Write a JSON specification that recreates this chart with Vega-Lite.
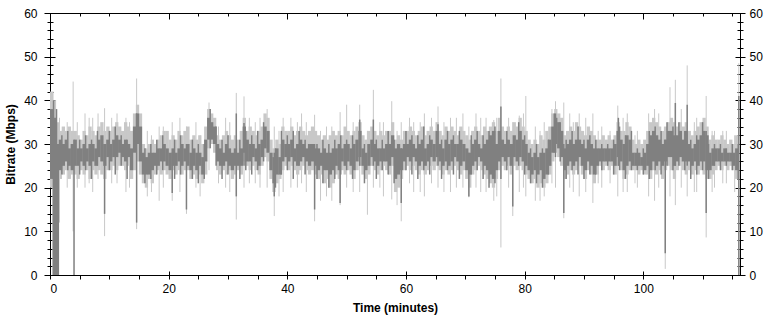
{
"$schema": "https://vega.github.io/schema/vega-lite/v6.json",
"width": 690, "height": 262,
"autosize": {"type": "none"},
"padding": {"left": 50, "top": 13, "right": 31, "bottom": 49},
"background": "#ffffff",
"config": {"view": {"stroke": "#000000", "strokeWidth": 1}, "axis": {"grid": false, "domain": false, "tickColor": "#000000", "labelColor": "#000000", "titleColor": "#000000", "labelFont": "Liberation Sans", "titleFont": "Liberation Sans", "labelFontSize": 12, "titleFontSize": 12, "titleFontWeight": "bold"}},
"datasets": {
"main": [
{"t":0.25,"l":20,"h":42,"a":22,"b":38},{"t":0.75,"l":0,"h":40,"a":0,"b":36},{"t":1.25,"l":0,"h":35,"a":0,"b":30},{"t":1.75,"l":22,"h":33,"a":24,"b":31},
{"t":2.25,"l":23,"h":34,"a":25,"b":30},{"t":2.75,"l":24,"h":33,"a":26,"b":31},{"t":3.25,"l":22,"h":34,"a":25,"b":29},{"t":3.75,"l":23,"h":33,"a":24,"b":30},
{"t":4.25,"l":23,"h":33,"a":25,"b":31},{"t":4.75,"l":22,"h":32,"a":25,"b":29},{"t":5.25,"l":24,"h":31,"a":26,"b":29},{"t":5.75,"l":23,"h":33,"a":25,"b":30},
{"t":6.25,"l":24,"h":32,"a":26,"b":29},{"t":6.75,"l":22,"h":34,"a":25,"b":30},{"t":7.25,"l":24,"h":33,"a":26,"b":30},{"t":7.75,"l":23,"h":32,"a":25,"b":29},
{"t":8.25,"l":24,"h":34,"a":27,"b":31},{"t":8.75,"l":23,"h":35,"a":26,"b":32},{"t":9.25,"l":22,"h":33,"a":25,"b":30},{"t":9.75,"l":24,"h":34,"a":27,"b":31},
{"t":10.25,"l":24,"h":33,"a":26,"b":30},{"t":10.75,"l":25,"h":34,"a":27,"b":31},{"t":11.25,"l":24,"h":35,"a":27,"b":32},{"t":11.75,"l":25,"h":34,"a":28,"b":31},
{"t":12.25,"l":25,"h":33,"a":27,"b":30},{"t":12.75,"l":24,"h":35,"a":26,"b":31},{"t":13.25,"l":25,"h":34,"a":27,"b":30},{"t":13.75,"l":22,"h":33,"a":24,"b":29},
{"t":14.25,"l":24,"h":37,"a":28,"b":34},{"t":14.75,"l":26,"h":39,"a":30,"b":37},{"t":15.25,"l":23,"h":37,"a":26,"b":34},{"t":15.75,"l":21,"h":30,"a":23,"b":28},
{"t":16.25,"l":20,"h":29,"a":23,"b":27},{"t":16.75,"l":22,"h":30,"a":23,"b":28},{"t":17.25,"l":21,"h":31,"a":24,"b":28},{"t":17.75,"l":23,"h":30,"a":25,"b":28},
{"t":18.25,"l":24,"h":31,"a":25,"b":29},{"t":18.75,"l":23,"h":32,"a":26,"b":29},{"t":19.25,"l":24,"h":33,"a":26,"b":30},{"t":19.75,"l":23,"h":33,"a":25,"b":29},
{"t":20.25,"l":22,"h":31,"a":24,"b":28},{"t":20.75,"l":24,"h":32,"a":25,"b":29},{"t":21.25,"l":23,"h":31,"a":25,"b":28},{"t":21.75,"l":24,"h":33,"a":26,"b":29},
{"t":22.25,"l":23,"h":32,"a":25,"b":30},{"t":22.75,"l":24,"h":33,"a":26,"b":29},{"t":23.25,"l":24,"h":34,"a":25,"b":30},{"t":23.75,"l":22,"h":31,"a":24,"b":28},
{"t":24.25,"l":23,"h":32,"a":25,"b":29},{"t":24.75,"l":22,"h":31,"a":24,"b":28},{"t":25.25,"l":23,"h":32,"a":25,"b":28},{"t":25.75,"l":21,"h":30,"a":23,"b":27},
{"t":26.25,"l":23,"h":34,"a":26,"b":31},{"t":26.75,"l":29,"h":38,"a":31,"b":36},{"t":27.25,"l":30,"h":37,"a":31,"b":35},{"t":27.75,"l":28,"h":36,"a":30,"b":34},
{"t":28.25,"l":24,"h":32,"a":26,"b":30},{"t":28.75,"l":23,"h":31,"a":25,"b":29},{"t":29.25,"l":24,"h":32,"a":25,"b":28},{"t":29.75,"l":23,"h":33,"a":26,"b":30},
{"t":30.25,"l":24,"h":32,"a":25,"b":29},{"t":30.75,"l":22,"h":31,"a":24,"b":28},{"t":31.25,"l":23,"h":32,"a":25,"b":29},{"t":31.75,"l":24,"h":31,"a":25,"b":28},
{"t":32.25,"l":23,"h":33,"a":25,"b":29},{"t":32.75,"l":26,"h":36,"a":28,"b":34},{"t":33.25,"l":25,"h":33,"a":26,"b":31},{"t":33.75,"l":24,"h":34,"a":26,"b":30},
{"t":34.25,"l":25,"h":33,"a":27,"b":30},{"t":34.75,"l":24,"h":32,"a":26,"b":29},{"t":35.25,"l":23,"h":33,"a":25,"b":30},{"t":35.75,"l":25,"h":34,"a":27,"b":31},
{"t":36.25,"l":27,"h":37,"a":29,"b":34},{"t":36.75,"l":26,"h":36,"a":28,"b":33},{"t":37.25,"l":22,"h":31,"a":24,"b":28},{"t":37.75,"l":19,"h":29,"a":21,"b":27},
{"t":38.25,"l":21,"h":31,"a":23,"b":29},{"t":38.75,"l":22,"h":30,"a":23,"b":27},{"t":39.25,"l":24,"h":34,"a":26,"b":31},{"t":39.75,"l":25,"h":33,"a":27,"b":30},
{"t":40.25,"l":24,"h":33,"a":26,"b":30},{"t":40.75,"l":25,"h":34,"a":27,"b":31},{"t":41.25,"l":24,"h":32,"a":26,"b":29},{"t":41.75,"l":23,"h":33,"a":25,"b":30},
{"t":42.25,"l":24,"h":34,"a":26,"b":31},{"t":42.75,"l":25,"h":33,"a":27,"b":30},{"t":43.25,"l":24,"h":32,"a":26,"b":29},{"t":43.75,"l":23,"h":33,"a":25,"b":30},
{"t":44.25,"l":24,"h":34,"a":26,"b":30},{"t":44.75,"l":23,"h":33,"a":25,"b":29},{"t":45.25,"l":22,"h":32,"a":24,"b":29},{"t":45.75,"l":23,"h":31,"a":25,"b":28},
{"t":46.25,"l":21,"h":32,"a":24,"b":29},{"t":46.75,"l":22,"h":31,"a":24,"b":28},{"t":47.25,"l":20,"h":32,"a":23,"b":28},{"t":47.75,"l":21,"h":33,"a":24,"b":29},
{"t":48.25,"l":23,"h":32,"a":25,"b":29},{"t":48.75,"l":22,"h":33,"a":24,"b":30},{"t":49.25,"l":24,"h":32,"a":26,"b":29},{"t":49.75,"l":23,"h":34,"a":25,"b":30},
{"t":50.25,"l":24,"h":33,"a":26,"b":30},{"t":50.75,"l":23,"h":32,"a":25,"b":29},{"t":51.25,"l":22,"h":33,"a":24,"b":30},{"t":51.75,"l":24,"h":34,"a":26,"b":31},
{"t":52.25,"l":25,"h":35,"a":27,"b":33},{"t":52.75,"l":23,"h":32,"a":25,"b":29},{"t":53.25,"l":22,"h":31,"a":24,"b":28},{"t":53.75,"l":23,"h":33,"a":25,"b":30},
{"t":54.25,"l":25,"h":34,"a":27,"b":31},{"t":54.75,"l":24,"h":33,"a":26,"b":30},{"t":55.25,"l":23,"h":32,"a":25,"b":29},{"t":55.75,"l":24,"h":33,"a":26,"b":29},
{"t":56.25,"l":25,"h":32,"a":26,"b":29},{"t":56.75,"l":24,"h":33,"a":26,"b":30},{"t":57.25,"l":23,"h":33,"a":25,"b":30},{"t":57.75,"l":25,"h":35,"a":27,"b":32},
{"t":58.25,"l":19,"h":31,"a":22,"b":29},{"t":58.75,"l":20,"h":32,"a":23,"b":30},{"t":59.25,"l":22,"h":31,"a":24,"b":29},{"t":59.75,"l":24,"h":33,"a":26,"b":30},
{"t":60.25,"l":25,"h":33,"a":27,"b":30},{"t":60.75,"l":24,"h":34,"a":26,"b":31},{"t":61.25,"l":25,"h":33,"a":27,"b":30},{"t":61.75,"l":24,"h":32,"a":26,"b":29},
{"t":62.25,"l":23,"h":33,"a":25,"b":30},{"t":62.75,"l":24,"h":34,"a":26,"b":31},{"t":63.25,"l":23,"h":32,"a":25,"b":29},{"t":63.75,"l":24,"h":33,"a":26,"b":30},
{"t":64.25,"l":25,"h":34,"a":27,"b":31},{"t":64.75,"l":24,"h":33,"a":26,"b":30},{"t":65.25,"l":25,"h":35,"a":27,"b":33},{"t":65.75,"l":24,"h":33,"a":26,"b":30},
{"t":66.25,"l":23,"h":32,"a":25,"b":29},{"t":66.75,"l":24,"h":34,"a":26,"b":31},{"t":67.25,"l":23,"h":33,"a":25,"b":30},{"t":67.75,"l":24,"h":34,"a":26,"b":31},
{"t":68.25,"l":25,"h":33,"a":27,"b":30},{"t":68.75,"l":24,"h":32,"a":26,"b":30},{"t":69.25,"l":23,"h":34,"a":25,"b":31},{"t":69.75,"l":24,"h":33,"a":26,"b":30},
{"t":70.25,"l":22,"h":32,"a":24,"b":29},{"t":70.75,"l":20,"h":31,"a":23,"b":28},{"t":71.25,"l":23,"h":33,"a":25,"b":30},{"t":71.75,"l":24,"h":34,"a":26,"b":31},
{"t":72.25,"l":25,"h":33,"a":27,"b":30},{"t":72.75,"l":24,"h":32,"a":26,"b":29},{"t":73.25,"l":23,"h":34,"a":25,"b":30},{"t":73.75,"l":22,"h":33,"a":24,"b":31},
{"t":74.25,"l":21,"h":34,"a":23,"b":32},{"t":74.75,"l":20,"h":35,"a":22,"b":33},{"t":75.25,"l":22,"h":33,"a":24,"b":30},{"t":75.75,"l":24,"h":36,"a":26,"b":33},
{"t":76.25,"l":25,"h":34,"a":27,"b":31},{"t":76.75,"l":24,"h":33,"a":26,"b":30},{"t":77.25,"l":25,"h":34,"a":27,"b":31},{"t":77.75,"l":23,"h":33,"a":25,"b":30},
{"t":78.25,"l":25,"h":35,"a":27,"b":32},{"t":78.75,"l":24,"h":34,"a":26,"b":31},{"t":79.25,"l":25,"h":36,"a":27,"b":33},{"t":79.75,"l":24,"h":34,"a":26,"b":31},
{"t":80.25,"l":23,"h":33,"a":25,"b":30},{"t":80.75,"l":22,"h":31,"a":24,"b":28},{"t":81.25,"l":21,"h":30,"a":23,"b":27},{"t":81.75,"l":22,"h":31,"a":24,"b":28},
{"t":82.25,"l":20,"h":30,"a":23,"b":27},{"t":82.75,"l":21,"h":32,"a":24,"b":28},{"t":83.25,"l":20,"h":31,"a":22,"b":28},{"t":83.75,"l":21,"h":33,"a":23,"b":29},
{"t":84.25,"l":23,"h":34,"a":25,"b":31},{"t":84.75,"l":26,"h":37,"a":28,"b":34},{"t":85.25,"l":28,"h":38,"a":30,"b":36},{"t":85.75,"l":27,"h":37,"a":29,"b":35},
{"t":86.25,"l":25,"h":36,"a":27,"b":33},{"t":86.75,"l":22,"h":32,"a":24,"b":29},{"t":87.25,"l":23,"h":33,"a":25,"b":30},{"t":87.75,"l":24,"h":34,"a":26,"b":31},
{"t":88.25,"l":23,"h":33,"a":25,"b":30},{"t":88.75,"l":24,"h":35,"a":26,"b":31},{"t":89.25,"l":25,"h":34,"a":27,"b":31},{"t":89.75,"l":23,"h":33,"a":25,"b":30},
{"t":90.25,"l":22,"h":32,"a":24,"b":29},{"t":90.75,"l":24,"h":34,"a":26,"b":31},{"t":91.25,"l":23,"h":33,"a":25,"b":30},{"t":91.75,"l":21,"h":32,"a":23,"b":29},
{"t":92.25,"l":23,"h":31,"a":25,"b":29},{"t":92.75,"l":25,"h":31,"a":26,"b":29},{"t":93.25,"l":24,"h":32,"a":26,"b":29},{"t":93.75,"l":25,"h":31,"a":26,"b":29},
{"t":94.25,"l":24,"h":32,"a":26,"b":29},{"t":94.75,"l":25,"h":31,"a":26,"b":29},{"t":95.25,"l":23,"h":32,"a":25,"b":30},{"t":95.75,"l":25,"h":35,"a":27,"b":33},
{"t":96.25,"l":24,"h":33,"a":26,"b":31},{"t":96.75,"l":22,"h":33,"a":24,"b":30},{"t":97.25,"l":23,"h":35,"a":25,"b":32},{"t":97.75,"l":24,"h":34,"a":26,"b":31},
{"t":98.25,"l":24,"h":31,"a":25,"b":28},{"t":98.75,"l":24,"h":30,"a":25,"b":28},{"t":99.25,"l":23,"h":31,"a":25,"b":28},{"t":99.75,"l":24,"h":30,"a":25,"b":27},
{"t":100.25,"l":23,"h":31,"a":24,"b":28},{"t":100.75,"l":23,"h":33,"a":25,"b":30},{"t":101.25,"l":22,"h":35,"a":24,"b":32},{"t":101.75,"l":24,"h":36,"a":26,"b":33},
{"t":102.25,"l":23,"h":35,"a":25,"b":32},{"t":102.75,"l":24,"h":34,"a":26,"b":31},{"t":103.25,"l":22,"h":33,"a":25,"b":30},{"t":103.75,"l":24,"h":34,"a":26,"b":31},
{"t":104.25,"l":25,"h":35,"a":27,"b":33},{"t":104.75,"l":24,"h":36,"a":27,"b":33},{"t":105.25,"l":22,"h":35,"a":25,"b":32},{"t":105.75,"l":24,"h":34,"a":26,"b":32},
{"t":106.25,"l":25,"h":35,"a":27,"b":33},{"t":106.75,"l":24,"h":34,"a":26,"b":31},{"t":107.25,"l":23,"h":35,"a":26,"b":33},{"t":107.75,"l":24,"h":33,"a":26,"b":30},
{"t":108.25,"l":23,"h":32,"a":25,"b":29},{"t":108.75,"l":24,"h":33,"a":26,"b":30},{"t":109.25,"l":23,"h":34,"a":25,"b":31},{"t":109.75,"l":24,"h":35,"a":26,"b":32},
{"t":110.25,"l":23,"h":36,"a":26,"b":33},{"t":110.75,"l":22,"h":34,"a":24,"b":32},{"t":111.25,"l":22,"h":31,"a":24,"b":28},{"t":111.75,"l":23,"h":32,"a":25,"b":29},
{"t":112.25,"l":24,"h":31,"a":26,"b":29},{"t":112.75,"l":25,"h":31,"a":26,"b":29},{"t":113.25,"l":24,"h":32,"a":26,"b":28},{"t":113.75,"l":25,"h":31,"a":26,"b":29},
{"t":114.25,"l":24,"h":30,"a":26,"b":28},{"t":114.75,"l":25,"h":31,"a":26,"b":28},{"t":115.25,"l":24,"h":30,"a":25,"b":28},{"t":115.75,"l":22,"h":32,"a":24,"b":29}
],
"lspk": [
{"t":0.5,"l":0,"h":42},{"t":1.6,"l":12,"h":36},{"t":2.9,"l":20,"h":35},{"t":3.9,"l":10,"h":44.3},{"t":5.9,"l":20,"h":37},{"t":7.2,"l":19,"h":36},
{"t":9.2,"l":8.9,"h":38.2},{"t":11.3,"l":21,"h":37},{"t":12.8,"l":19,"h":36},{"t":14.6,"l":10.5,"h":45},{"t":16.4,"l":18,"h":33},{"t":18.4,"l":17,"h":34},
{"t":20.6,"l":17,"h":35},{"t":23,"l":14,"h":34},{"t":24.6,"l":20,"h":35},{"t":26.8,"l":24,"h":39.5},{"t":29.6,"l":20,"h":36},{"t":31.4,"l":12.7,"h":41.7},
{"t":32.7,"l":20,"h":40.9},{"t":34.6,"l":21,"h":35},{"t":36.6,"l":20,"h":38},{"t":37.8,"l":13.5,"h":34},{"t":39.3,"l":19,"h":36},{"t":41.7,"l":20,"h":35},
{"t":43.2,"l":19,"h":35},{"t":44.6,"l":12.3,"h":36.7},{"t":46.6,"l":18,"h":34},{"t":48.9,"l":16,"h":37.3},{"t":50.0,"l":20,"h":39},{"t":52.2,"l":19,"h":39},
{"t":53.5,"l":13.8,"h":33},{"t":54.5,"l":20,"h":42.4},{"t":56.2,"l":18,"h":35},{"t":57.6,"l":17.3,"h":39.8},{"t":59.2,"l":12.3,"h":35},{"t":61.3,"l":19,"h":35},
{"t":63.1,"l":18,"h":37},{"t":65.4,"l":20,"h":38.6},{"t":67.5,"l":19,"h":36},{"t":69.6,"l":20,"h":37},{"t":70.6,"l":17.8,"h":34},{"t":71.8,"l":20,"h":37},
{"t":73.5,"l":19,"h":36},{"t":74.8,"l":17,"h":35.5},{"t":76.0,"l":6.3,"h":45},{"t":78.0,"l":13.5,"h":35},{"t":79.1,"l":19,"h":36.5},{"t":80.2,"l":18,"h":41},
{"t":81.8,"l":17,"h":34},{"t":83.3,"l":18,"h":35},{"t":85.2,"l":20,"h":39.8},{"t":86.6,"l":13,"h":39.5},{"t":88.2,"l":19,"h":35},{"t":89.2,"l":18,"h":37},
{"t":91.5,"l":16.5,"h":37},{"t":93.0,"l":20,"h":34},{"t":95.7,"l":18,"h":38.8},{"t":97.3,"l":19,"h":37},{"t":99.0,"l":20,"h":33},{"t":100.9,"l":18,"h":37},
{"t":101.9,"l":17,"h":38},{"t":103.7,"l":1.4,"h":33},{"t":104.5,"l":18,"h":43},{"t":105.4,"l":16,"h":44.7},{"t":107.4,"l":18,"h":48},{"t":109.0,"l":19,"h":36},
{"t":110.6,"l":8.6,"h":41},{"t":112.0,"l":20,"h":33},{"t":114.0,"l":21,"h":33},{"t":116.1,"l":0,"h":48.5},
{"t":4.6,"l":20,"h":35},{"t":6.6,"l":21,"h":36},{"t":8.1,"l":22,"h":37},{"t":10.4,"l":21,"h":36},{"t":13.4,"l":20,"h":35},{"t":17.1,"l":19,"h":32},
{"t":19.1,"l":20,"h":34},{"t":21.9,"l":19,"h":36},{"t":25.3,"l":18,"h":32},{"t":28.4,"l":21,"h":34},{"t":30.3,"l":19,"h":35},{"t":33.6,"l":21,"h":36},
{"t":35.4,"l":20,"h":36},{"t":38.6,"l":18,"h":33},{"t":40.6,"l":20,"h":36},{"t":42.4,"l":21,"h":37},{"t":45.6,"l":17,"h":33},{"t":47.5,"l":17,"h":34},
{"t":51.1,"l":19,"h":35},{"t":55.6,"l":20,"h":35},{"t":58.5,"l":16,"h":33},{"t":60.6,"l":21,"h":36},{"t":62.4,"l":19,"h":35},{"t":64.3,"l":21,"h":36},
{"t":66.4,"l":19,"h":35},{"t":68.5,"l":20,"h":36},{"t":72.6,"l":19,"h":36},{"t":75.3,"l":18,"h":36},{"t":77.3,"l":20,"h":36},{"t":79.8,"l":20,"h":37},
{"t":82.6,"l":17,"h":33},{"t":84.6,"l":21,"h":38},{"t":87.6,"l":20,"h":37},{"t":90.3,"l":19,"h":36},{"t":92.4,"l":21,"h":33},{"t":94.4,"l":21,"h":33},
{"t":96.6,"l":19,"h":36},{"t":98.6,"l":21,"h":32},{"t":102.6,"l":20,"h":37},{"t":106.4,"l":20,"h":38},{"t":108.6,"l":19,"h":35},{"t":111.6,"l":19,"h":33},
{"t":113.4,"l":21,"h":33},{"t":115.4,"l":19,"h":32}
],
"dspk": [
{"t":0.6,"a":0,"b":40},{"t":1.1,"a":0,"b":38},{"t":4.05,"a":0,"b":31},{"t":9.2,"a":14,"b":30},{"t":14.6,"a":12,"b":37},{"t":20.6,"a":18.8,"b":28},
{"t":23,"a":15,"b":30},{"t":31.4,"a":18,"b":37},{"t":32.7,"a":25,"b":34.8},{"t":37.8,"a":18,"b":28},{"t":44.6,"a":15,"b":30},{"t":48.9,"a":16.5,"b":29},
{"t":52.2,"a":25,"b":35.6},{"t":54.5,"a":25,"b":35.6},{"t":59.2,"a":16.5,"b":29},{"t":65.4,"a":25,"b":34.5},{"t":70.6,"a":18,"b":28},{"t":76,"a":22,"b":38.6},
{"t":78,"a":15.7,"b":30},{"t":85.2,"a":27,"b":37},{"t":86.6,"a":14.2,"b":30},{"t":95.8,"a":25,"b":36},{"t":103.7,"a":5,"b":31},{"t":105.4,"a":25,"b":39.4},
{"t":107.4,"a":25,"b":39},{"t":110.6,"a":14.2,"b":33},{"t":116.1,"a":0,"b":41},
{"t":2,"a":23,"b":32},{"t":3,"a":24,"b":33},{"t":5,"a":23,"b":31},{"t":6,"a":24,"b":32},{"t":7,"a":22,"b":31},{"t":8,"a":25,"b":33},
{"t":10,"a":24,"b":33},{"t":11,"a":23,"b":34},{"t":12,"a":25,"b":32},{"t":13,"a":22,"b":31},{"t":16,"a":21,"b":29},{"t":17,"a":22,"b":30},
{"t":18,"a":23,"b":31},{"t":19,"a":24,"b":32},{"t":21,"a":22,"b":31},{"t":22,"a":23,"b":32},{"t":24,"a":22,"b":31},{"t":25,"a":21,"b":30},
{"t":26,"a":22,"b":30},{"t":27,"a":29,"b":38},{"t":28,"a":25,"b":34},{"t":29,"a":22,"b":31},{"t":30,"a":23,"b":32},{"t":32,"a":22,"b":31},
{"t":33,"a":24,"b":33},{"t":34,"a":23,"b":32},{"t":35,"a":24,"b":33},{"t":36,"a":26,"b":35},{"t":38,"a":20,"b":29},{"t":39,"a":23,"b":33},
{"t":40,"a":24,"b":32},{"t":41,"a":22,"b":33},{"t":42,"a":25,"b":33},{"t":43,"a":23,"b":31},{"t":45,"a":22,"b":30},{"t":46,"a":21,"b":31},
{"t":47,"a":20,"b":30},{"t":48,"a":22,"b":31},{"t":49,"a":23,"b":32},{"t":50,"a":24,"b":31},{"t":51,"a":22,"b":32},{"t":53,"a":21,"b":30},
{"t":55,"a":22,"b":31},{"t":56,"a":24,"b":31},{"t":57,"a":23,"b":33},{"t":58,"a":21,"b":31},{"t":60,"a":24,"b":33},{"t":61,"a":23,"b":32},
{"t":62,"a":22,"b":32},{"t":63,"a":24,"b":34},{"t":64,"a":23,"b":32},{"t":66,"a":22,"b":31},{"t":67,"a":24,"b":33},{"t":68,"a":23,"b":32},
{"t":69,"a":22,"b":33},{"t":71,"a":23,"b":32},{"t":72,"a":24,"b":33},{"t":73,"a":22,"b":32},{"t":74,"a":20,"b":33},{"t":75,"a":21,"b":34},
{"t":77,"a":24,"b":33},{"t":79,"a":25,"b":35},{"t":80,"a":23,"b":32},{"t":81,"a":21,"b":29},{"t":82,"a":21,"b":30},{"t":83,"a":20,"b":29},
{"t":84,"a":23,"b":31},{"t":85,"a":28,"b":37},{"t":86,"a":26,"b":35},{"t":87,"a":22,"b":31},{"t":88,"a":24,"b":33},{"t":89,"a":23,"b":34},
{"t":90,"a":22,"b":31},{"t":91,"a":23,"b":32},{"t":92,"a":23,"b":31},{"t":93,"a":24,"b":30},{"t":94,"a":25,"b":30},{"t":95,"a":23,"b":31},
{"t":96,"a":24,"b":34},{"t":97,"a":22,"b":32},{"t":98,"a":24,"b":33},{"t":99,"a":24,"b":29},{"t":100,"a":23,"b":29},{"t":101,"a":22,"b":33},
{"t":102,"a":24,"b":34},{"t":103,"a":23,"b":33},{"t":104,"a":25,"b":35},{"t":105,"a":24,"b":34},{"t":106,"a":25,"b":35},{"t":107,"a":24,"b":33},
{"t":108,"a":22,"b":31},{"t":109,"a":23,"b":32},{"t":110,"a":24,"b":35},{"t":111,"a":22,"b":30},{"t":112,"a":25,"b":30},{"t":113,"a":24,"b":30},
{"t":114,"a":25,"b":29},{"t":115,"a":24,"b":30},{"t":116,"a":22,"b":30}
]
},
"layer": [
{"data": {"name": "main"}, "mark": {"type": "rule", "color": "#c8c8c8", "strokeWidth": 3.3, "clip": true},
 "encoding": {
  "x": {"field": "t", "type": "quantitative", "scale": {"domain": [0, 116.3], "nice": false, "zero": false},
   "axis": {"orient": "bottom", "values": [0,20,40,60,80,100], "offset": -4, "tickSize": 8, "labelPadding": 4, "title": "Time (minutes)", "titlePadding": 8}},
  "y": {"field": "l", "type": "quantitative", "scale": {"domain": [0, 60], "nice": false},
   "axis": {"orient": "left", "values": [0,10,20,30,40,50,60], "offset": -5, "tickSize": 11, "labelPadding": 7, "title": "Bitrate (Mbps)", "titlePadding": 6}},
  "y2": {"field": "h"}}},
{"data": {"name": "lspk"}, "mark": {"type": "rule", "color": "#c8c8c8", "strokeWidth": 1, "clip": true},
 "encoding": {
  "x": {"field": "t", "type": "quantitative", "scale": {"domain": [0, 116.3], "nice": false, "zero": false},
   "axis": {"orient": "bottom", "values": [5,10,15,25,30,35,45,50,55,65,70,75,85,90,95,105,110,115], "offset": 0, "tickSize": 4, "labels": false, "title": null}},
  "y": {"field": "l", "type": "quantitative", "scale": {"domain": [0, 60], "nice": false},
   "axis": {"orient": "left", "values": [2,4,6,8,12,14,16,18,22,24,26,28,32,34,36,38,42,44,46,48,52,54,56,58], "offset": -3, "tickSize": 6, "labels": false, "title": null}},
  "y2": {"field": "h"}}},
{"data": {"name": "main"}, "mark": {"type": "rule", "color": "#808080", "strokeWidth": 3.3, "clip": true},
 "encoding": {
  "x": {"field": "t", "type": "quantitative", "scale": {"domain": [0, 116.3], "nice": false, "zero": false},
   "axis": {"orient": "top", "values": [0,20,40,60,80,100], "offset": -6, "tickSize": 6, "labels": false, "title": null}},
  "y": {"field": "a", "type": "quantitative", "scale": {"domain": [0, 60], "nice": false},
   "axis": {"orient": "right", "values": [0,10,20,30,40,50,60], "offset": -5, "tickSize": 10, "labelPadding": 4, "title": null}},
  "y2": {"field": "b"}}},
{"data": {"name": "dspk"}, "mark": {"type": "rule", "color": "#808080", "strokeWidth": 1.5, "clip": true},
 "encoding": {
  "x": {"field": "t", "type": "quantitative", "scale": {"domain": [0, 116.3], "nice": false, "zero": false},
   "axis": {"orient": "top", "values": [5,10,15,25,30,35,45,50,55,65,70,75,85,90,95,105,110,115], "offset": -3, "tickSize": 3, "labels": false, "title": null}},
  "y": {"field": "a", "type": "quantitative", "scale": {"domain": [0, 60], "nice": false},
   "axis": {"orient": "right", "values": [2,4,6,8,12,14,16,18,22,24,26,28,32,34,36,38,42,44,46,48,52,54,56,58], "offset": -3, "tickSize": 6, "labels": false, "title": null}},
  "y2": {"field": "b"}}}
],
"resolve": {"axis": {"x": "independent", "y": "independent"}}
}
